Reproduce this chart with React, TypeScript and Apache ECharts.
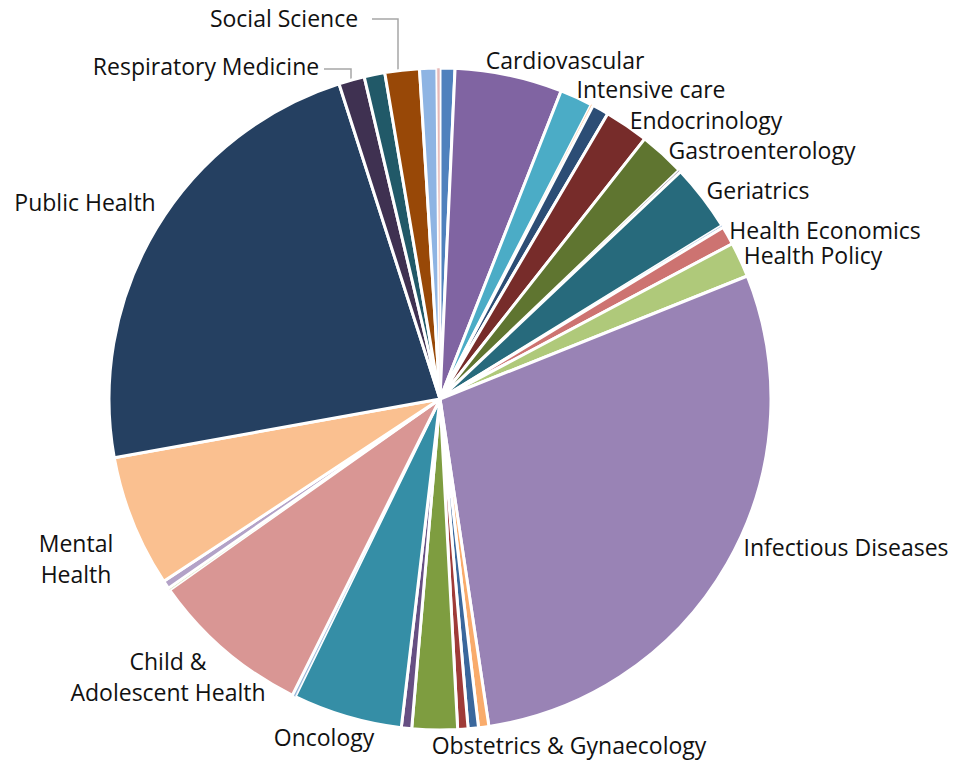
import React, { useEffect, useRef } from "react";
import * as echarts from "echarts";

// Slices clockwise from 12 o'clock (share of total, %)
const categories: string[] = [
  "Anaesthesia",
  "Cardiovascular",
  "Intensive care",
  "Dentistry",
  "Dermatology",
  "Endocrinology",
  "Gastroenterology",
  "Genetics",
  "Geriatrics",
  "Haematology",
  "Health Economics",
  "Health Policy",
  "Infectious Diseases",
  "Medical Education",
  "Nephrology",
  "Neurology",
  "Obstetrics & Gynaecology",
  "Occupational Health",
  "Oncology",
  "Ophthalmology",
  "Child & Adolescent Health",
  "Pathology",
  "Pharmacology",
  "Mental Health",
  "Public Health",
  "Respiratory Medicine",
  "Rheumatology",
  "Social Science",
  "Surgery",
  "Urology",
];

const values: number[] = [
  0.72, 5.2, 1.58, 0.1, 0.8, 2.14, 2.22, 0.1, 3.25, 0.1, 0.9, 1.7, 28.5, 0.5, 0.5,
  0.5, 2.2, 0.5, 5.3, 0.15, 7.8, 0.1, 0.4, 6.4, 22.75, 1.25, 1.0, 1.67, 0.83, 0.15,
];

const labelledCategories: string[] = [
  "Cardiovascular",
  "Intensive care",
  "Endocrinology",
  "Gastroenterology",
  "Geriatrics",
  "Health Economics",
  "Health Policy",
  "Infectious Diseases",
  "Obstetrics & Gynaecology",
  "Oncology",
  "Child & Adolescent Health",
  "Mental Health",
  "Public Health",
  "Respiratory Medicine",
  "Social Science",
];

const colors: string[] = [
  "#4F81BD", "#8064A2", "#4BACC6", "#F79646", "#2C4D75", "#772C2A", "#5F7530",
  "#4D3B62", "#276A7C", "#729ACA", "#CD7371", "#AFC97A", "#9983B5", "#F9AB6B",
  "#3A679C", "#9F3B38", "#7E9D40", "#664F83", "#358EA6", "#95B3D7", "#D99694",
  "#C3D69B", "#B3A2C7", "#FAC090", "#254061", "#3F3151", "#215968", "#984807",
  "#8EB4E3", "#E6B9B8",
];

// label display text (line breaks) and placement
const LABEL_TEXT: Record<string, string> = {
  "Mental Health": "Mental\nHealth",
  "Child & Adolescent Health": "Child &\nAdolescent Health",
};
const LABEL_POS: Record<string, [number, number]> = {
  "Cardiovascular": [565, 60],
  "Intensive care": [651, 89],
  "Endocrinology": [706, 120],
  "Gastroenterology": [762, 150],
  "Geriatrics": [758, 190],
  "Health Economics": [825, 230],
  "Health Policy": [813, 255],
  "Infectious Diseases": [846, 547],
  "Obstetrics & Gynaecology": [569, 745],
  "Oncology": [324, 737],
  "Child & Adolescent Health": [168, 676],
  "Mental Health": [76, 558],
  "Public Health": [85, 202],
  "Respiratory Medicine": [206, 66],
  "Social Science": [284, 18],
};
const LEADERS: Record<string, number[][]> = {
  "Respiratory Medicine": [[351, 80], [351, 69], [324, 69]],
  "Social Science": [[398, 72], [398, 19], [372, 19]],
};

export default function App() {
  const ref = useRef<HTMLDivElement>(null);
  useEffect(() => {
    document.body.style.margin = "0";
    if (!ref.current) return;
    const chart = echarts.init(ref.current, undefined, { renderer: "svg" });
    const data = categories.map((name, i) => {
      const labelled = labelledCategories.includes(name);
      const thin = values[i] < 0.2;
      const multi = !!LABEL_TEXT[name];
      return {
        name,
        value: values[i],
        itemStyle: { color: colors[i], borderWidth: thin ? 0.6 : 3 },
        label: { show: labelled, lineHeight: multi ? 31 : 22 },
        labelLine: { show: !!LEADERS[name] },
      };
    });
    chart.setOption({
      animation: false,
      backgroundColor: "#ffffff",
      series: [
        {
          type: "pie",
          center: [440, 399],
          radius: [0, 331],
          startAngle: 90,
          clockwise: true,
          avoidLabelOverlap: false,
          data,
          itemStyle: { borderColor: "#ffffff", borderWidth: 3 },
          label: {
            position: "outside",
            fontFamily: "Open Sans",
            fontSize: 23,
            lineHeight: 22,
            color: "#111111",
            align: "center",
            formatter: (p: any) => LABEL_TEXT[p.name] ?? p.name,
          },
          labelLine: {
            lineStyle: { color: "#A6A6A6", width: 1.5 },
          },
          emphasis: { disabled: true },
          labelLayout: (params: any) => {
            const name = categories[params.dataIndex];
            const pos = LABEL_POS[name];
            if (!pos) return {};
            const out: any = {
              x: pos[0],
              y: pos[1],
              align: "center",
              verticalAlign: "middle",
            };
            if (LEADERS[name]) out.labelLinePoints = LEADERS[name];
            return out;
          },
        },
      ],
    });
    return () => chart.dispose();
  }, []);
  return <div ref={ref} style={{ width: 953, height: 761 }} />;
}
